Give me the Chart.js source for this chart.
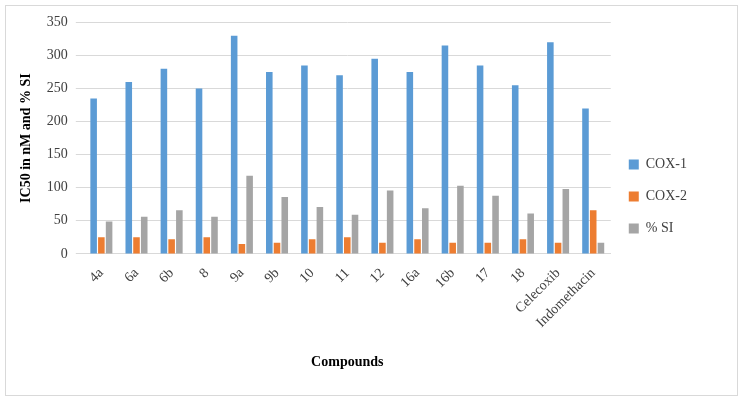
<!DOCTYPE html>
<html>
<head>
<meta charset="UTF-8">
<script src="https://cdn.jsdelivr.net/npm/chart.js@4.4.4/dist/chart.umd.min.js"></script>
<style>
  body { margin: 0; background: #fff; }
  #box { position: absolute; left: 5px; top: 5px; width: 731px; height: 389px; border: 1px solid #d9d9d9; }
</style>
</head>
<body>
<div id="box"><canvas id="c"></canvas></div>
<script>
const compounds = ['4a', '6a', '6b', '8', '9a', '9b', '10', '11', '12', '16a', '16b', '17', '18', 'Celecoxib', 'Indomethacin'];
const cox1 = [235, 260, 280, 250, 330, 275, 285, 270, 295, 275, 315, 285, 255, 320, 220];
const cox2 = [25, 25, 22, 25, 15, 17, 22, 25, 17, 22, 17, 17, 22, 17, 66];
const si = [49, 56, 66, 56, 118, 86, 71, 59, 96, 69, 103, 88, 61, 98, 17];
const yTicks = [0, 50, 100, 150, 200, 250, 300, 350];

const font = 'Liberation Serif';
new Chart(document.getElementById('c'), {
    type: 'bar',
    data: {
        labels: compounds,
        datasets: [
            { label: 'COX-1', data: cox1, backgroundColor: '#5b9bd5' },
            { label: 'COX-2', data: cox2, backgroundColor: '#ed7d31' },
            { label: '% SI', data: si, backgroundColor: '#a5a5a5' }
        ]
    },
    options: {
        responsive: true,
        maintainAspectRatio: false,
        animation: false,
        layout: { padding: { left: 8, right: 40, top: 12, bottom: 20 } },
        datasets: { bar: { categoryPercentage: 0.66, barPercentage: 0.85 } },
        plugins: {
            legend: {
                position: 'right',
                labels: { font: { family: font, size: 14 }, color: '#404040', boxWidth: 10, boxHeight: 10, padding: 18 }
            },
            tooltip: { enabled: false }
        },
        scales: {
            x: {
                grid: { display: false },
                border: { color: '#d9d9d9' },
                ticks: { maxRotation: 45, minRotation: 45, color: '#404040', font: { family: font, size: 14 } },
                title: { display: true, text: 'Compounds', color: '#000', font: { family: font, size: 14, weight: 'bold' }, padding: { top: 20 } }
            },
            y: {
                min: 0, max: 350,
                afterBuildTicks: axis => { axis.ticks = yTicks.map(v => ({ value: v })); },
                grid: { color: '#d9d9d9' },
                border: { display: false },
                ticks: { color: '#404040', font: { family: font, size: 14 }, padding: 8 },
                title: { display: true, text: 'IC50 in nM and % SI', color: '#000', font: { family: font, size: 14, weight: 'bold' } }
            }
        }
    }
});
</script>
</body>
</html>
